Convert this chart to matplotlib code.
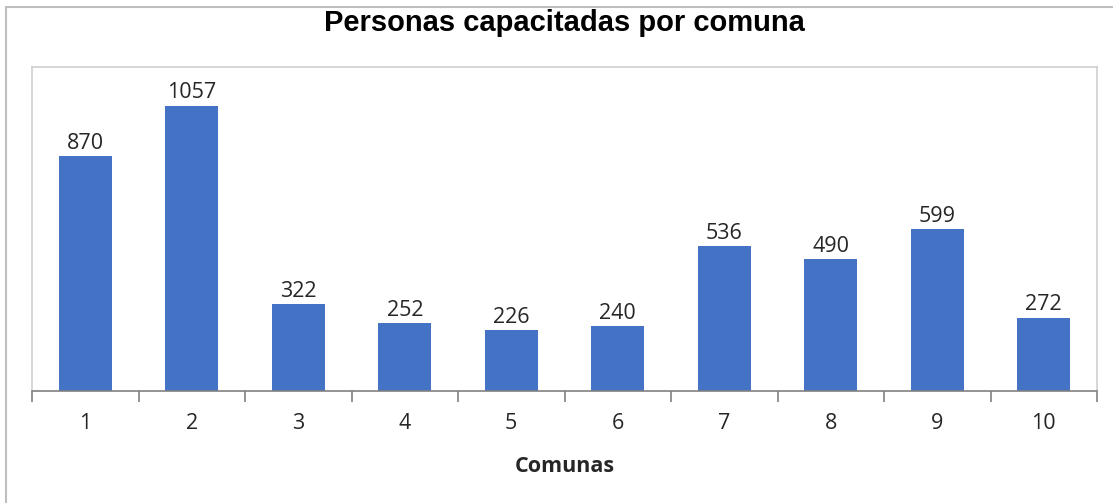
import matplotlib
matplotlib.use("Agg")
import matplotlib.pyplot as plt
from matplotlib.patches import Rectangle
import numpy as np

# data
comunas = ["1", "2", "3", "4", "5", "6", "7", "8", "9", "10"]
personas = [870, 1057, 322, 252, 226, 240, 536, 490, 599, 272]

BAR_COLOR = "#4472C4"
W, H = 1113, 503

fig = plt.figure(figsize=(W / 100, H / 100), dpi=100)

# outer chart frame (Excel style)
fig.patches.append(Rectangle((6 / W, -0.1), 1.2, (H - 7) / H + 0.1,
                             transform=fig.transFigure, fill=False,
                             edgecolor="#bfbfbf", linewidth=1.5))

ax = fig.add_axes([32 / W, (H - 391) / H, (1097 - 32) / W, (391 - 67) / H])

x = np.arange(len(comunas))
bars = ax.bar(x, personas, width=0.5, color=BAR_COLOR, zorder=2)
for xi, v in zip(x, personas):
    ax.text(xi, v + 8, str(v), ha="center", va="bottom",
            fontsize=15.5, family="Open Sans", color="#262626")

ax.set_xlim(-0.5, len(comunas) - 0.5)
ax.set_ylim(0, 1200)
ax.set_yticks([])

# category labels at centres, tick marks between categories
ax.set_xticks(x)
ax.set_xticklabels(comunas, fontsize=15.5, family="Open Sans", color="#262626")
ax.tick_params(axis="x", which="major", length=0, pad=16)
ax.set_xticks(np.arange(-0.5, len(comunas)), minor=True)
ax.tick_params(axis="x", which="minor", length=8, width=1.2, color="#808080")

for s in ["left", "top", "right"]:
    ax.spines[s].set_color("#d0d0d0")
    ax.spines[s].set_linewidth(1.2)
ax.spines["bottom"].set_color("#808080")
ax.spines["bottom"].set_linewidth(1.2)

ax.set_xlabel("Comunas", fontsize=15.5, fontweight="bold", family="Open Sans",
              color="#262626", labelpad=16)

fig.text(0.507, (H - 23) / H, "Personas capacitadas por comuna", ha="center",
         va="center", fontsize=21, fontweight="bold", family="Liberation Sans")

fig.savefig("out.png", dpi=100)
